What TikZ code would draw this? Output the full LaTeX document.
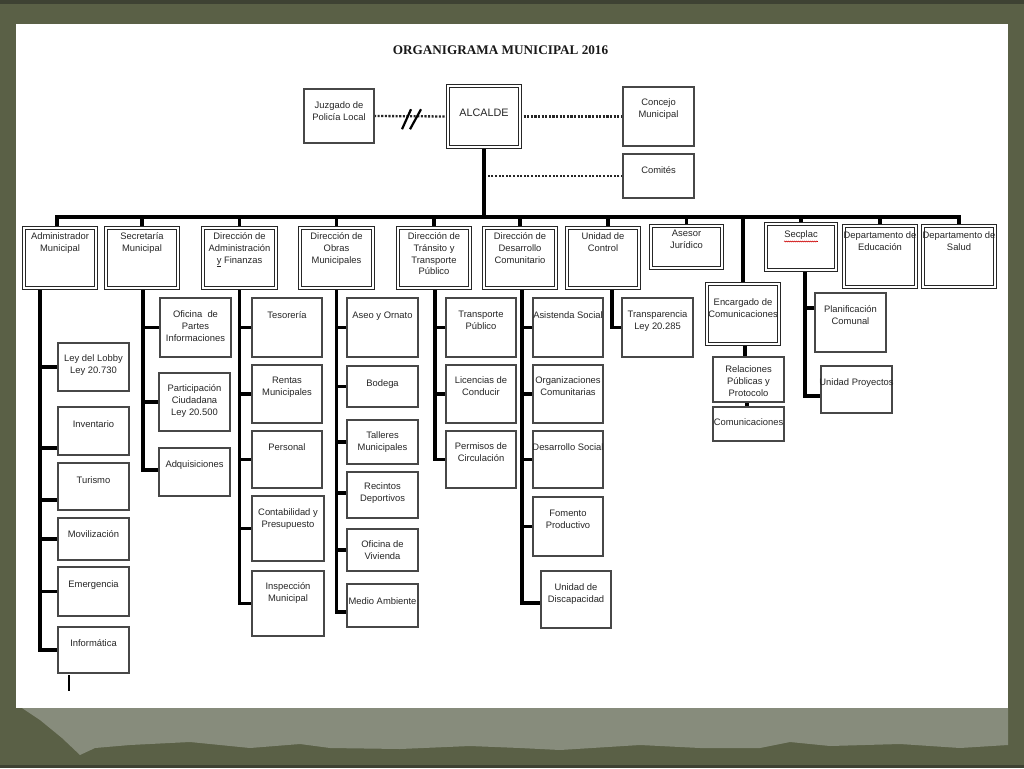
\documentclass[tikz,border=0pt]{standalone}
\usepackage{fontspec}
\setmainfont{Liberation Sans}
\newfontfamily\titlefont{Liberation Serif}
\usetikzlibrary{calc,decorations.pathmorphing}
\pgfdeclarelayer{back}
\pgfdeclarelayer{links}
\pgfsetlayers{back,links,main}
\definecolor{stone}{HTML}{5A6046}
\definecolor{band}{HTML}{878C7C}
\definecolor{stonedark}{HTML}{3E4233}
\tikzset{
 txt/.style={anchor=north, inner sep=0pt, align=center, font=\fontsize{9.4}{11.6}\selectfont, text=black!85},
 subbox/.style={draw=black!72, line width=1.2pt, fill=white, inner sep=0pt, outer sep=0pt},
 topbox/.style={draw=black!85, line width=1.3pt, double=white, double distance=1.1pt, fill=white, inner sep=0pt, outer sep=0pt},
 br/.style={line width=3.3pt, black},
 bus/.style={line width=3.8pt, black, line join=miter},
 dotline/.style={line width=2.3pt, dash pattern=on 2.1pt off 1.5pt, black!85},
 slash/.style={line width=2.2pt, black},
}
% style, name, x1, y1, x2, y2, first-line centre y, text
\newcommand\orgbox[8]{%
  \node[#1, minimum width={(#5-#3)*1pt}, minimum height={(#6-#4)*1pt}] (#2) at ({(#3+#5)/2},{(#4+#6)/2}) {};
  \node[txt] (#2t) at ({(#3+#5)/2},{#7-4.2}) {#8};
}
\begin{document}
\begin{tikzpicture}[x=1pt,y=-1pt]
\useasboundingbox (0,0) rectangle (1024,768);
\begin{pgfonlayer}{back}
\fill[stone] (0,0) rectangle (1024,768);
\fill[stonedark] (0,0) rectangle (1024,4);
\fill[stonedark] (0,765) rectangle (1024,768);
\fill[band] (22,708) -- (1008,708) -- (1008,745) -- (960,748) -- (900,744) -- (830,746) -- (790,742) -- (760,748) -- (700,748) -- (640,745) -- (560,750) -- (520,748) -- (470,746) -- (400,749) -- (330,748) -- (300,744) -- (250,748) -- (190,742) -- (130,745) -- (95,748) -- (80,755) -- (62,738) -- (40,720) -- cycle;
\fill[white] (16,24) rectangle (1008,708);
\end{pgfonlayer}

\node[font=\titlefont\bfseries\fontsize{13.2}{15}\selectfont, text=black!90] (title) at (500.5,50) {ORGANIGRAMA MUNICIPAL 2016};

% top
\orgbox{subbox}{juz}{304}{89}{374}{143}{106}{Juzgado de\\Policía Local}
\orgbox{topbox}{alc}{448}{86}{520}{147}{113}{\fontsize{10.8}{12}\selectfont ALCALDE}
\orgbox{subbox}{con}{623}{87}{694}{146}{103}{Concejo\\Municipal}
\orgbox{subbox}{comi}{623}{154}{694}{198}{171}{Comités}

% level 1
\orgbox{topbox}{adm}{24}{228}{96}{288}{237}{Administrador\\Municipal}
\orgbox{topbox}{sec}{106}{228}{178}{288}{237}{Secretaría\\Municipal}
\orgbox{topbox}{daf}{203}{228}{276}{288}{237}{Dirección de\\Administración\\\underline{y} Finanzas}
\orgbox{topbox}{dom}{300}{228}{373}{288}{237}{Dirección de\\Obras\\Municipales}
\orgbox{topbox}{dtt}{398}{228}{470}{288}{237}{Dirección de\\Tránsito y\\Transporte\\Público}
\orgbox{topbox}{ddc}{484}{228}{556}{288}{237}{Dirección de\\Desarrollo\\Comunitario}
\orgbox{topbox}{uc}{567}{228}{639}{288}{237}{Unidad de\\Control}
\orgbox{topbox}{aj}{651}{226}{722}{268}{234}{Asesor\\Jurídico}
\orgbox{topbox}{enc}{707}{284}{779}{344}{303}{Encargado de\\Comunicaciones}
\orgbox{topbox}{spl}{766}{224}{836}{270}{235}{Secplac}
\orgbox{topbox}{edu}{844}{226}{916}{287}{236}{Departamento de\\Educación}
\orgbox{topbox}{sal}{923}{226}{995}{287}{236}{Departamento de\\Salud}

% Administrador
\orgbox{subbox}{lob}{58}{343}{129}{391}{359}{Ley del Lobby\\Ley 20.730}
\orgbox{subbox}{inv}{58}{407}{129}{455}{425}{Inventario}
\orgbox{subbox}{tur}{58}{463}{129}{510}{481}{Turismo}
\orgbox{subbox}{mov}{58}{518}{129}{560}{535}{Movilización}
\orgbox{subbox}{eme}{58}{567}{129}{616}{585}{Emergencia}
\orgbox{subbox}{inf}{58}{627}{129}{673}{644}{Informática}
% Secretaria
\orgbox{subbox}{opi}{160}{298}{231}{357}{315}{Oficina\ \ de\\Partes\\Informaciones}
\orgbox{subbox}{pci}{159}{373}{230}{431}{389}{Participación\\Ciudadana\\Ley 20.500}
\orgbox{subbox}{adq}{159}{448}{230}{496}{465}{Adquisiciones}
% Administracion y Finanzas
\orgbox{subbox}{tes}{252}{298}{322}{357}{316}{Tesorería}
\orgbox{subbox}{ren}{252}{365}{322}{423}{381}{Rentas\\Municipales}
\orgbox{subbox}{per}{252}{431}{322}{488}{448}{Personal}
\orgbox{subbox}{cyp}{252}{496}{324}{561}{513}{Contabilidad y\\Presupuesto}
\orgbox{subbox}{ins}{252}{571}{324}{636}{587}{Inspección\\Municipal}
% Obras
\orgbox{subbox}{aseo}{347}{298}{418}{357}{316}{Aseo y Ornato}
\orgbox{subbox}{bod}{347}{366}{418}{407}{384}{Bodega}
\orgbox{subbox}{tal}{347}{420}{418}{464}{436}{Talleres\\Municipales}
\orgbox{subbox}{rec}{347}{472}{418}{518}{487}{Recintos\\Deportivos}
\orgbox{subbox}{viv}{347}{529}{418}{571}{545}{Oficina de\\Vivienda}
\orgbox{subbox}{med}{347}{584}{418}{627}{602}{Medio Ambiente}
% Transito
\orgbox{subbox}{tpu}{446}{298}{516}{357}{315}{Transporte\\Público}
\orgbox{subbox}{lic}{446}{365}{516}{423}{381}{Licencias de\\Conducir}
\orgbox{subbox}{pdc}{446}{431}{516}{488}{447}{Permisos de\\Circulación}
% Desarrollo
\orgbox{subbox}{asi}{533}{298}{603}{357}{316}{Asistenda Social}
\orgbox{subbox}{org}{533}{365}{603}{423}{381}{Organizaciones\\Comunitarias}
\orgbox{subbox}{dso}{533}{431}{603}{488}{448}{Desarrollo Social}
\orgbox{subbox}{fom}{533}{497}{603}{556}{514}{Fomento\\Productivo}
\orgbox{subbox}{dis}{541}{571}{611}{628}{588}{Unidad de\\Discapacidad}
% Control
\orgbox{subbox}{tra}{622}{298}{693}{357}{315}{Transparencia\\Ley 20.285}
% Encargado
\orgbox{subbox}{rel}{713}{357}{784}{402}{370}{Relaciones\\Públicas y\\Protocolo}
\orgbox{subbox}{com}{713}{407}{784}{441}{423}{Comunicaciones}
% Secplac
\orgbox{subbox}{pla}{815}{293}{886}{352}{310}{Planificación\\Comunal}
\orgbox{subbox}{upr}{821}{366}{892}{413}{383}{Unidad Proyectos}

\coordinate (busy) at (484,217);
\coordinate (brk) at ($(juz.east)!0.5!(alc.west)$);

\begin{pgfonlayer}{links}
\draw[dotline] (juz.east) -- (alc.west);
\draw[dotline] (alc.east) -- (con.west);
\draw[dotline] (comi.west) -- (comi.west -| alc.south);
\draw[line width=4.4pt] (alc.south) -- (alc.south |- busy);
\draw[bus] ([xshift=-3pt]adm.north) -- ([xshift=-3pt]adm.north |- busy) -- (sal.north |- busy) -- (sal.north);
\foreach \n in {sec,daf,dom,dtt,ddc,aj,enc,spl,edu}
  \draw[br] (\n.north) -- (\n.north |- busy);
\draw[br] ([xshift=5pt]uc.north) -- ([xshift=5pt]uc.north |- busy);

\foreach \c/\d in {lob/0,inv/-17,tur/-13.5,mov/0,eme/0,inf/0}
  \draw[br] ([xshift=-20pt]adm.south) |- ([yshift=\d pt]\c.west);
\foreach \c/\d in {opi/0,pci/0,adq/2}
  \draw[br] ([xshift=1pt]sec.south) |- ([yshift=\d pt]\c.west);
\foreach \c/\d in {tes/0,ren/0,per/0,cyp/0,ins/0}
  \draw[br] (daf.south) |- ([yshift=\d pt]\c.west);
\foreach \c/\d in {aseo/0,bod/0,tal/0,rec/2,viv/0,med/-6.5}
  \draw[br] (dom.south) |- ([yshift=\d pt]\c.west);
\foreach \c/\d in {tpu/0,lic/0,pdc/0}
  \draw[br] ([xshift=1pt]dtt.south) |- ([yshift=\d pt]\c.west);
\foreach \c/\d in {asi/0,org/0,dso/0,fom/0,dis/-3.5}
  \draw[br] ([xshift=2pt]ddc.south) |- ([yshift=\d pt]\c.west);
\draw[br] ([xshift=9pt]uc.south) |- (tra.west);
\foreach \c/\d in {pla/14.5,upr/-6.5}
  \draw[br] ([xshift=4pt]spl.south) |- ([yshift=\d pt]\c.west);
\draw[br] ([xshift=2pt]enc.south) -- ([xshift=2pt]enc.south |- rel.north);
\draw[br] ([xshift=-1.5pt]rel.south) -- ([xshift=-1.5pt]rel.south |- com.north);
\draw[line width=1.5pt] ([xshift=-24.5pt,yshift=-2pt]inf.south) -- ++(0,-16pt);
\end{pgfonlayer}

\draw[slash] ([shift={(-9pt,-13pt)}]brk) -- ++(9pt,20pt);
\draw[slash] ([shift={(-1pt,-13pt)}]brk) -- ++(11pt,20pt);
\draw[red!80!black, line width=0.6pt, decorate, decoration={snake,amplitude=0.5pt,segment length=2pt}] ([yshift=-1.5pt]splt.south west) -- ([yshift=-1.5pt]splt.south east);
\end{tikzpicture}
\end{document}
